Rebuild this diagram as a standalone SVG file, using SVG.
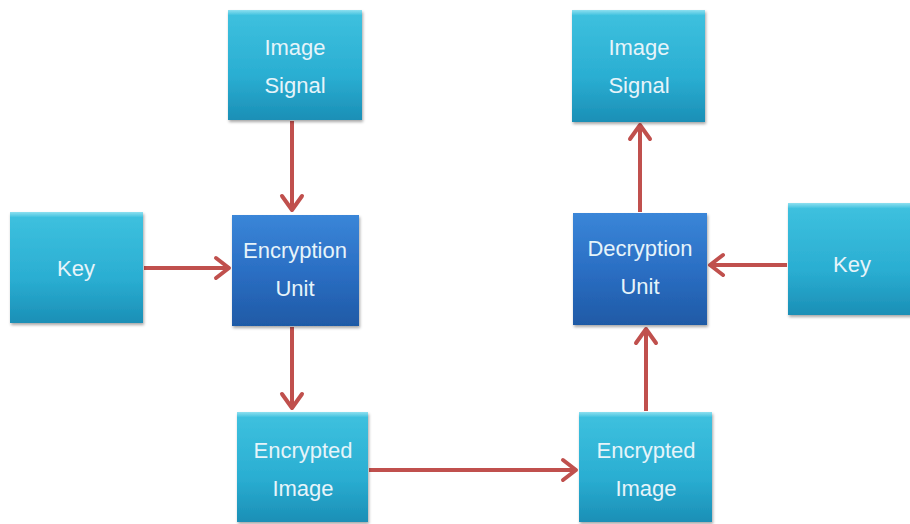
<svg xmlns="http://www.w3.org/2000/svg" width="910" height="524" viewBox="0 0 910 524">
<style>
.lbl{font-family:"Liberation Sans",Arial,sans-serif;font-size:22px;fill:#e6f4fa;text-anchor:middle}
.conn{stroke:#c0504d;stroke-width:4;fill:none}
.head{stroke:#c0504d;stroke-width:4;fill:none;stroke-linecap:round;stroke-linejoin:round}
</style>
<defs>
<linearGradient id="cyan" x1="0" y1="0" x2="0" y2="1">
<stop offset="0" stop-color="#8ee0f0"/>
<stop offset="0.05" stop-color="#3dc0de"/>
<stop offset="0.6" stop-color="#2aaed2"/>
<stop offset="1" stop-color="#1b8fb6"/>
</linearGradient>
<linearGradient id="blue" x1="0" y1="0" x2="0" y2="1">
<stop offset="0" stop-color="#3a86d8"/>
<stop offset="0.5" stop-color="#2b6fc4"/>
<stop offset="1" stop-color="#1f5aa6"/>
</linearGradient>
<filter id="sh" x="-10%" y="-10%" width="130%" height="130%">
<feDropShadow dx="1" dy="2" stdDeviation="1.5" flood-color="#000" flood-opacity="0.35"/>
</filter>
</defs>
<rect width="910" height="524" fill="#ffffff"/>
<g id="connectors">
<line class="conn" x1="292" y1="121" x2="292" y2="210"/>
<polyline class="head" points="282,196 292,210 302,196"/>
<line class="conn" x1="144" y1="268" x2="229" y2="268"/>
<polyline class="head" points="216,258 229,268 216,278"/>
<line class="conn" x1="292" y1="327" x2="292" y2="408"/>
<polyline class="head" points="282,394 292,408 302,394"/>
<line class="conn" x1="369" y1="470" x2="576" y2="470"/>
<polyline class="head" points="563,460 576,470 563,480"/>
<line class="conn" x1="646" y1="411" x2="646" y2="329"/>
<polyline class="head" points="636,343 646,329 656,343"/>
<line class="conn" x1="640" y1="212" x2="640" y2="125"/>
<polyline class="head" points="630,139 640,125 650,139"/>
<line class="conn" x1="787" y1="265" x2="710" y2="265"/>
<polyline class="head" points="723,255 710,265 723,275"/>
</g>
<g id="image-signal-left">
<rect x="228" y="10" width="134" height="110" fill="url(#cyan)" filter="url(#sh)"/>
<text class="lbl" x="295" y="55">Image</text>
<text class="lbl" x="295" y="93">Signal</text>
</g>
<g id="key-left">
<rect x="10" y="212" width="133" height="111" fill="url(#cyan)" filter="url(#sh)"/>
<text class="lbl" x="76" y="276">Key</text>
</g>
<g id="encryption-unit">
<rect x="232" y="215" width="127" height="111" fill="url(#blue)" filter="url(#sh)"/>
<text class="lbl" x="295" y="258">Encryption</text>
<text class="lbl" x="295" y="296">Unit</text>
</g>
<g id="encrypted-image-left">
<rect x="237" y="412" width="131" height="110" fill="url(#cyan)" filter="url(#sh)"/>
<text class="lbl" x="303" y="458">Encrypted</text>
<text class="lbl" x="303" y="496">Image</text>
</g>
<g id="encrypted-image-right">
<rect x="579" y="412" width="133" height="110" fill="url(#cyan)" filter="url(#sh)"/>
<text class="lbl" x="646" y="458">Encrypted</text>
<text class="lbl" x="646" y="496">Image</text>
</g>
<g id="decryption-unit">
<rect x="573" y="213" width="134" height="112" fill="url(#blue)" filter="url(#sh)"/>
<text class="lbl" x="640" y="256">Decryption</text>
<text class="lbl" x="640" y="294">Unit</text>
</g>
<g id="image-signal-right">
<rect x="572" y="10" width="133" height="112" fill="url(#cyan)" filter="url(#sh)"/>
<text class="lbl" x="639" y="55">Image</text>
<text class="lbl" x="639" y="93">Signal</text>
</g>
<g id="key-right">
<rect x="788" y="203" width="124" height="112" fill="url(#cyan)" filter="url(#sh)"/>
<text class="lbl" x="852" y="272">Key</text>
</g>
</svg>
